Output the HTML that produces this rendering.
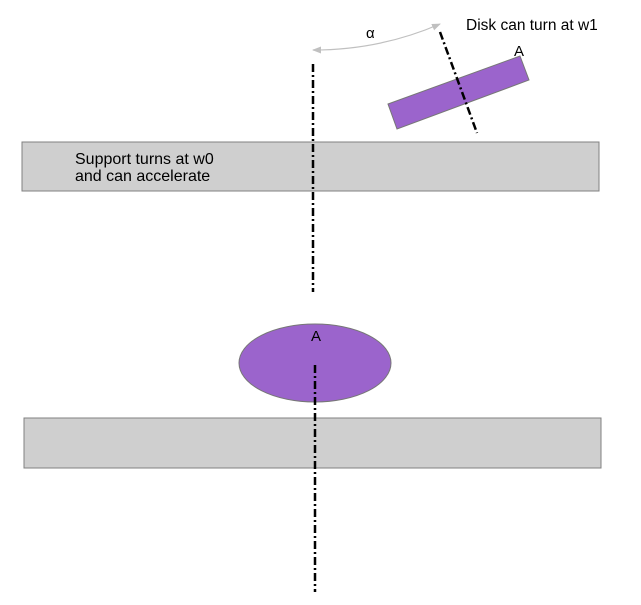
<!DOCTYPE html>
<html><head><style>body{margin:0;background:#fff}</style></head><body>
<svg width="641" height="600" xmlns="http://www.w3.org/2000/svg" font-family="Liberation Sans, sans-serif">
<defs><marker id="ar" markerWidth="9" markerHeight="7" refX="8" refY="3.5" orient="auto-start-reverse" markerUnits="userSpaceOnUse"><path d="M0,0 L9,3.5 L0,7 Z" fill="#c0c0c0"/></marker></defs>
<rect x="22" y="142" width="577" height="49" fill="#cfcfcf" stroke="#808080"/>
<rect x="24" y="418" width="577" height="50" fill="#cfcfcf" stroke="#808080"/>
<polygon points="388,104 520,56 529,80 397,129" fill="#9b64cc" stroke="#777"/>
<ellipse cx="315" cy="363" rx="76" ry="39" fill="#9b64cc" stroke="#777"/>
<g stroke="#000" stroke-width="2.5" stroke-dasharray="8,3,2,3" fill="none">
<line x1="313" y1="64" x2="313" y2="292"/>
<line x1="315" y1="365" x2="315" y2="592"/>
<line x1="440" y1="32" x2="477" y2="133"/>
</g>
<path d="M440,24 Q380,50 313,50" fill="none" stroke="#c0c0c0" stroke-width="1.2" marker-end="url(#ar)" marker-start="url(#ar)"/>
<text x="366" y="38" font-size="15">α</text>
<text x="466" y="30" font-size="15.5">Disk can turn at w1</text>
<text x="514" y="56" font-size="15">A</text>
<text x="311" y="341" font-size="15">A</text>
<text x="75" y="164" font-size="16">Support turns at w0</text>
<text x="75" y="181" font-size="16">and can accelerate</text>
</svg>
</body></html>
